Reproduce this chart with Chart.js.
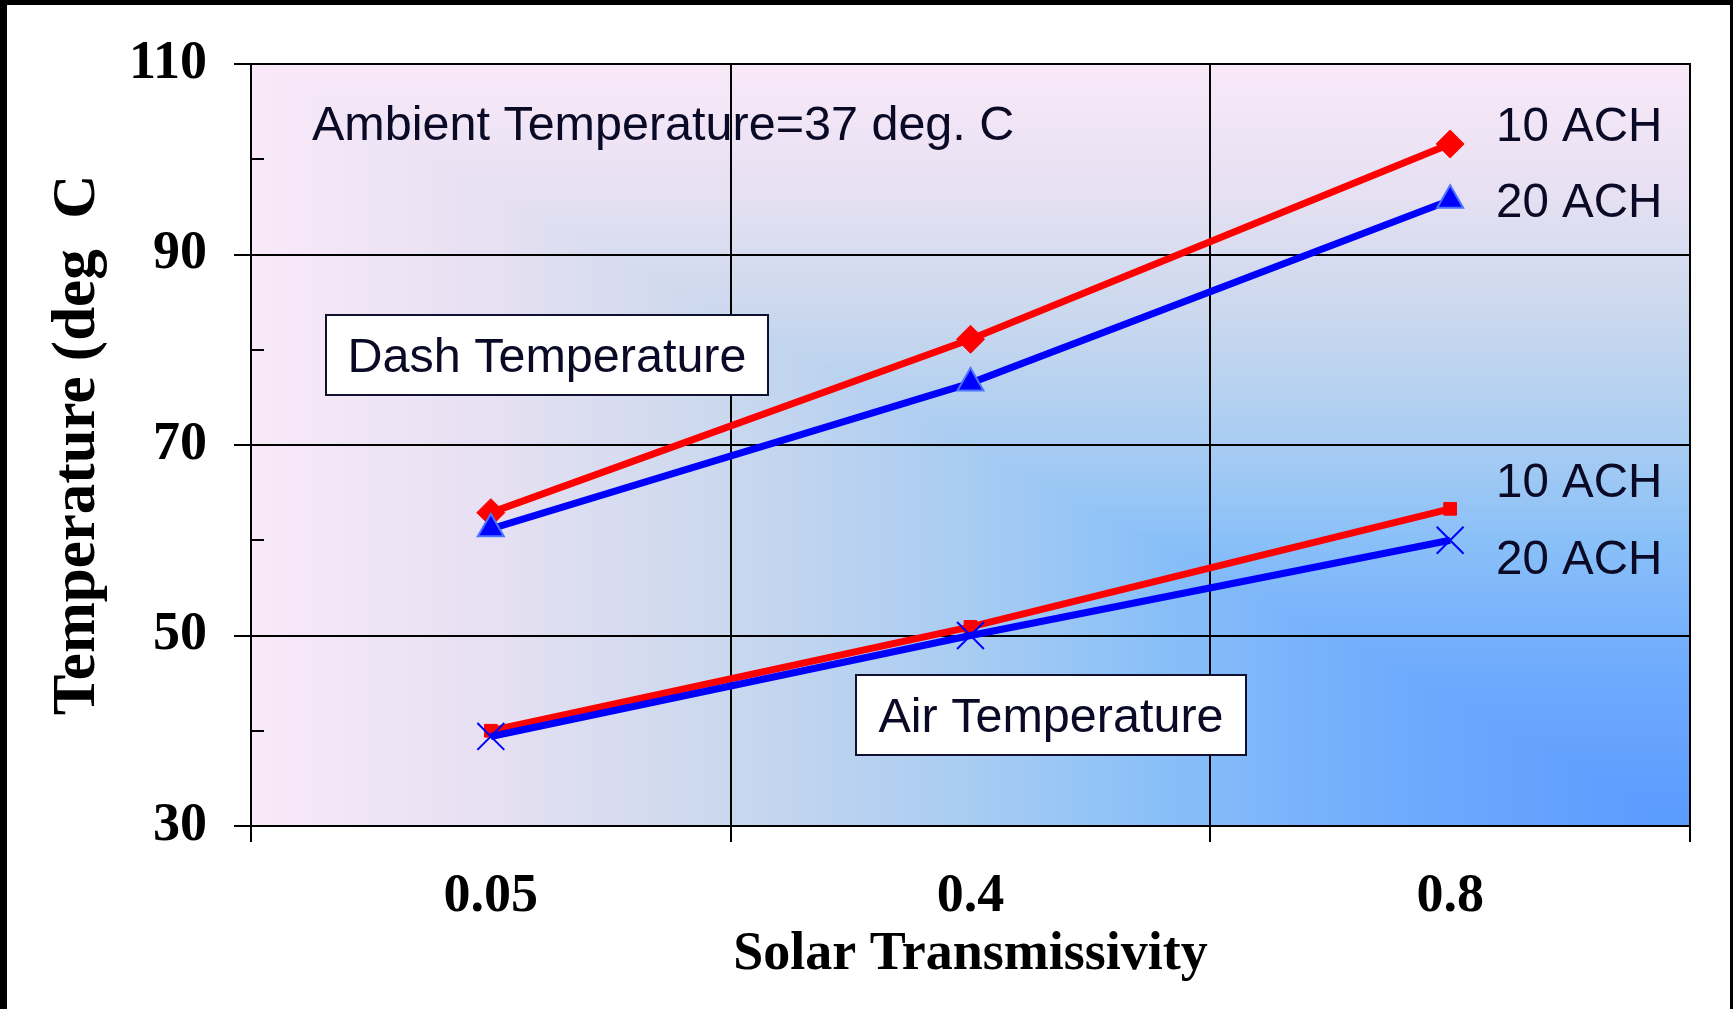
<!DOCTYPE html>
<html><head><meta charset="utf-8">
<script src="https://cdn.jsdelivr.net/npm/chart.js@4.4.1/dist/chart.umd.min.js"></script>
<style>html,body{margin:0;padding:0;background:#fff;}#wrap{width:1733px;height:1009px;position:relative;}</style>
</head><body><div id="wrap"><canvas id="c"></canvas></div>
<script>
// ---- data ----
const categories = ['0.05', '0.4', '0.8'];
const dash10ACH = [62.9, 81.1, 101.6];
const dash20ACH = [61.2, 76.5, 95.7];
const air10ACH = [40.0, 50.9, 63.3];
const air20ACH = [39.4, 50.0, 60.0];
const yTicks = [30, 50, 70, 90, 110];
const yMinorTicks = [40, 60, 80, 100];
const xTitle = 'Solar Transmissivity';
const yTitle = 'Temperature (deg  C';
const ambientNote = 'Ambient Temperature=37 deg. C';
const seriesLabels = ['10 ACH', '20 ACH'];
const groupLabels = ['Dash Temperature', 'Air Temperature'];

const serif = 'Liberation Serif';
const sans = 'Liberation Sans';
const textCol = '#0a0a26';

const gradStops = [[0,'#f9e9f9'],[0.17,'#e6e0f2'],[0.33,'#cad8ee'],[0.5,'#a8ccf2'],[0.625,'#8ac0f8'],[0.8,'#6eaafd'],[1,'#5a9aff']];

const deco = {
  id: 'deco',
  beforeDraw(chart) {
    const {ctx, width, height, chartArea: a} = chart;
    ctx.save();
    ctx.fillStyle = '#fff'; ctx.fillRect(0, 0, width, height);
    ctx.fillStyle = '#000';
    ctx.fillRect(0, 0, 7, height); ctx.fillRect(0, 0, width, 5); ctx.fillRect(width - 3, 0, 3, height);
    const gh = ctx.createLinearGradient(a.left, 0, a.right, 0);
    gradStops.forEach(s => gh.addColorStop(s[0], s[1]));
    ctx.fillStyle = gh; ctx.fillRect(a.left, a.top, a.width, a.height);
    const gv = ctx.createLinearGradient(0, a.top, 0, a.bottom);
    gradStops.forEach(s => gv.addColorStop(s[0], s[1]));
    ctx.beginPath(); ctx.moveTo(a.left, a.top); ctx.lineTo(a.right, a.top); ctx.lineTo(a.right, a.bottom); ctx.closePath();
    ctx.clip();
    ctx.fillStyle = gv; ctx.fillRect(a.left, a.top, a.width, a.height);
    ctx.restore();
  },
  afterDraw(chart) {
    const {ctx, chartArea: a, scales: {y}} = chart;
    ctx.save();
    ctx.strokeStyle = '#000'; ctx.lineWidth = 2;
    ctx.strokeRect(a.left, a.top, a.width, a.height);
    ctx.beginPath();
    yMinorTicks.forEach(v => { const py = Math.round(y.getPixelForValue(v)); ctx.moveTo(a.left, py); ctx.lineTo(a.left + 13, py); });
    ctx.stroke();
    ctx.fillStyle = textCol;
    ctx.textBaseline = 'alphabetic';
    ctx.textAlign = 'left';
    ctx.font = '48.5px "' + sans + '"';
    ctx.fillText(ambientNote, a.left + 61, a.top + 76);
    ctx.font = '47.5px "' + sans + '"';
    ctx.fillText(seriesLabels[0], a.left + 1245, a.top + 77);
    ctx.fillText(seriesLabels[1], a.left + 1245, a.top + 153);
    ctx.fillText(seriesLabels[0], a.left + 1245, a.top + 433);
    ctx.fillText(seriesLabels[1], a.left + 1245, a.top + 510);
    ctx.font = '48.5px "' + sans + '"';
    const boxes = [
      {t: groupLabels[0], x0: a.left + 75, y0: a.top + 251, x1: a.left + 517, y1: a.top + 331},
      {t: groupLabels[1], x0: a.left + 605, y0: a.top + 611, x1: a.left + 995, y1: a.top + 691}
    ];
    boxes.forEach(b => {
      ctx.fillStyle = '#fff';
      ctx.fillRect(b.x0, b.y0, b.x1 - b.x0, b.y1 - b.y0);
      ctx.strokeStyle = '#101030'; ctx.lineWidth = 2;
      ctx.strokeRect(b.x0, b.y0, b.x1 - b.x0, b.y1 - b.y0);
      ctx.fillStyle = textCol; ctx.textAlign = 'center';
      ctx.fillText(b.t, (b.x0 + b.x1) / 2, (b.y0 + b.y1) / 2 + 17);
    });
    ctx.restore();
  }
};

const tickFont = {family: serif, weight: 'bold', size: 54};

new Chart(document.getElementById('c'), {
  type: 'line',
  data: {
    labels: categories,
    datasets: [
      {label: 'Dash 20 ACH', data: dash20ACH, borderColor: '#0000ff', borderWidth: 7,
       pointStyle: 'triangle', pointRadius: 15, pointBackgroundColor: '#0000ff', pointBorderColor: '#4a74ff', pointBorderWidth: 2},
      {label: 'Air 20 ACH', data: air20ACH, borderColor: '#0000ff', borderWidth: 7,
       pointStyle: 'crossRot', pointRadius: 19, pointBackgroundColor: '#0000ff', pointBorderColor: '#0000ff', pointBorderWidth: 2},
      {label: 'Dash 10 ACH', data: dash10ACH, borderColor: '#ff0000', borderWidth: 7,
       pointStyle: 'rectRot', pointRadius: 14, pointBackgroundColor: '#ff0000', pointBorderColor: '#ff0000', pointBorderWidth: 1},
      {label: 'Air 10 ACH', data: air10ACH, borderColor: '#ff0000', borderWidth: 7,
       pointStyle: 'rect', pointRadius: 9, pointBackgroundColor: '#ff0000', pointBorderColor: '#ff0000', pointBorderWidth: 1}
    ]
  },
  options: {
    responsive: true, maintainAspectRatio: false, animation: false,
    layout: {padding: {left: 0, top: 64, right: 43, bottom: 0}},
    plugins: {legend: {display: false}, tooltip: {enabled: false}},
    elements: {line: {tension: 0}},
    scales: {
      x: {
        type: 'category', offset: true,
        grid: {offset: true, color: '#000', lineWidth: 2, tickLength: 16, tickColor: '#000', tickWidth: 2},
        border: {display: true, color: '#000', width: 2},
        ticks: {font: tickFont, color: '#000', padding: 23, maxRotation: 0, autoSkip: false},
        title: {display: true, text: xTitle, color: '#000', font: {family: serif, weight: 'bold', size: 54}, padding: {top: 0, bottom: 22}},
        afterFit(s) { s.height = 183; }
      },
      y: {
        min: 30, max: 110,
        ticks: {stepSize: 10, font: tickFont, color: '#000', padding: 27,
                callback: v => yTicks.includes(v) ? String(v) : ''},
        grid: {color: c => (c.tick && yTicks.includes(c.tick.value)) ? '#000' : 'rgba(0,0,0,0)',
               tickColor: c => (c.tick && yTicks.includes(c.tick.value)) ? '#000' : 'rgba(0,0,0,0)',
               lineWidth: 2, tickLength: 17, tickWidth: 2},
        border: {display: true, color: '#000', width: 2},
        title: {display: true, text: yTitle, color: '#000', font: {family: serif, weight: 'bold', size: 61}, padding: {top: 42, bottom: 0}},
        afterFit(s) { s.width = 251; }
      }
    }
  },
  plugins: [deco]
});
</script></body></html>
